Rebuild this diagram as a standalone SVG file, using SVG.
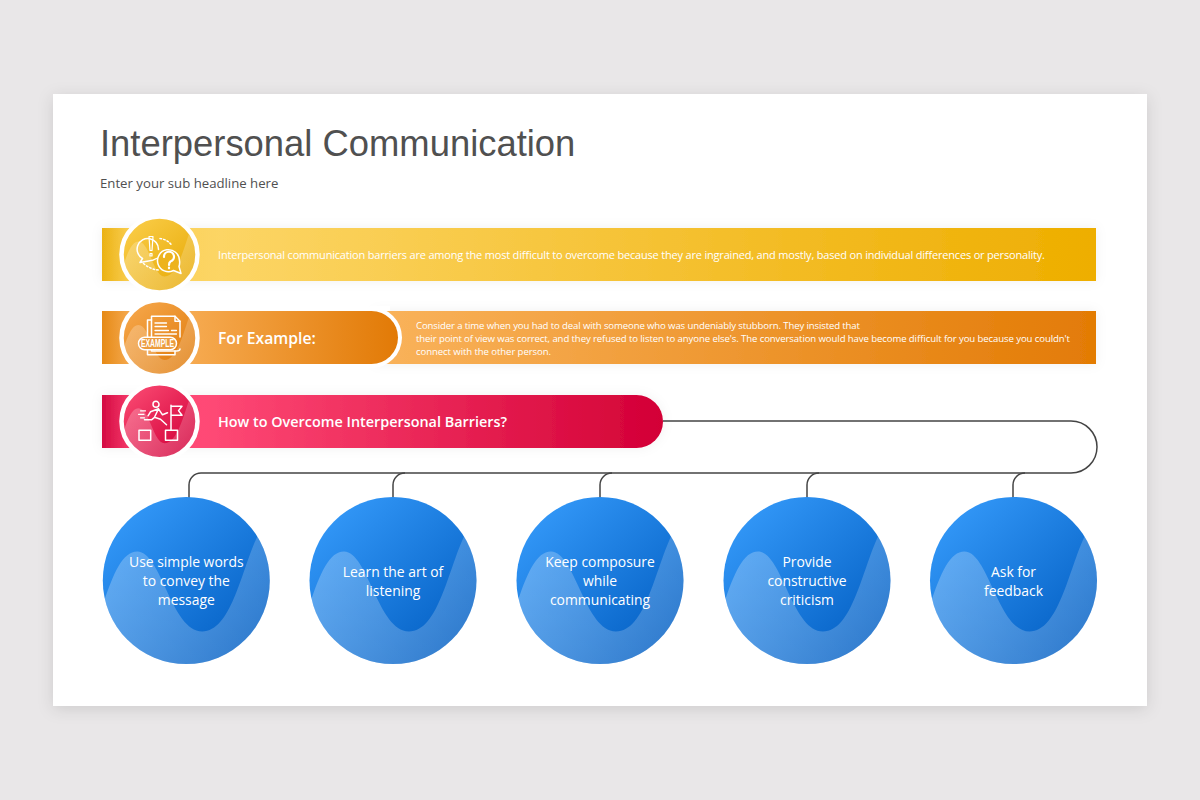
<svg xmlns="http://www.w3.org/2000/svg" width="1200" height="800" viewBox="0 0 1200 800">
<style>
.t{font-family:"Open Sans","Noto Sans",sans-serif;fill:#fff}
.c{font-size:13.9px;text-anchor:middle}
.h{font-weight:600}
.i{fill:none;stroke:#fff;stroke-width:1.5;stroke-linejoin:round;stroke-linecap:round}
.ring{stroke:#fff;stroke-width:4.5}
.wave{fill:url(#wv)}
.conn{fill:none;stroke:#444;stroke-width:1.5}
</style>
<defs>
<filter id="card" x="-5%" y="-5%" width="110%" height="110%"><feDropShadow dx="0" dy="3" stdDeviation="8" flood-color="#000" flood-opacity=".12"/></filter>
<filter id="soft" x="-10%" y="-30%" width="120%" height="160%"><feDropShadow dx="0" dy="0" stdDeviation="6" flood-color="#000" flood-opacity=".06"/></filter>
<linearGradient id="g1" gradientUnits="userSpaceOnUse" x1="102" y1="0" x2="1096" y2="0"><stop offset="0" stop-color="#ebb214"/><stop offset=".03" stop-color="#fbd055"/><stop offset=".12" stop-color="#fcd565"/><stop offset="1" stop-color="#eeae00"/></linearGradient>
<linearGradient id="g2" gradientUnits="userSpaceOnUse" x1="385" y1="0" x2="1096" y2="0"><stop offset="0" stop-color="#f9b25a"/><stop offset="1" stop-color="#e37b05"/></linearGradient>
<linearGradient id="g2p" gradientUnits="userSpaceOnUse" x1="102" y1="0" x2="398" y2="0"><stop offset="0" stop-color="#e68a16"/><stop offset=".1" stop-color="#f6ab52"/><stop offset=".3" stop-color="#f6aa50"/><stop offset="1" stop-color="#e27a06"/></linearGradient>
<linearGradient id="g3" gradientUnits="userSpaceOnUse" x1="102" y1="0" x2="663" y2="0"><stop offset="0" stop-color="#d40a42"/><stop offset=".05" stop-color="#f53a6a"/><stop offset=".18" stop-color="#ff4a76"/><stop offset="1" stop-color="#d30036"/></linearGradient>
<linearGradient id="ci1" x1=".15" y1=".1" x2=".85" y2=".9"><stop offset="0" stop-color="#f9cb45"/><stop offset="1" stop-color="#e8ab08"/></linearGradient>
<linearGradient id="ci2" x1=".15" y1=".1" x2=".85" y2=".9"><stop offset="0" stop-color="#f5a548"/><stop offset="1" stop-color="#e07c0c"/></linearGradient>
<linearGradient id="ci3" x1=".15" y1=".1" x2=".85" y2=".9"><stop offset="0" stop-color="#f8466f"/><stop offset="1" stop-color="#d3003a"/></linearGradient>
<linearGradient id="blue" x1=".1" y1=".1" x2=".85" y2=".9"><stop offset="0" stop-color="#3398f8"/><stop offset="1" stop-color="#0460c4"/></linearGradient>
<linearGradient id="wv" x1="0" y1="0" x2="1" y2="0"><stop offset="0" stop-color="#fff" stop-opacity=".26"/><stop offset="1" stop-color="#fff" stop-opacity=".17"/></linearGradient>
<clipPath id="cb"><circle r="83.500"/></clipPath>
<clipPath id="cs"><circle r="36"/></clipPath>
<g id="bluecircle">
<circle r="83.500" fill="url(#blue)"/>
<path class="wave" clip-path="url(#cb)" d="M-90,45C-76,0-66-29-49-29C-25-29-15,51 16,51C45,51 55-10 71-44L100-44L100,100L-100,100Z"/>
</g>
<path id="smallwave" class="wave" clip-path="url(#cs)" d="M-40,22C-33,2-29-13-21-13C-10-13-6,22 5,22C18,22 24-6 32-28L50-28L50,50L-50,50Z"/>
</defs>
<rect width="1200" height="800" fill="#e9e7e8"/>
<rect id="card-bg" x="53" y="94" width="1094" height="612" fill="#fff" filter="url(#card)"/>
<text x="100" y="156" font-family="'Liberation Sans',Arial,sans-serif" font-size="36.400" fill="#505050">Interpersonal Communication</text>
<text x="100" y="188" font-family="'Open Sans',sans-serif" font-size="13.200" fill="#505050">Enter your sub headline here</text>

<g id="connectors">
<path class="conn" d="M663,421H1071A26,26 0 0 1 1071,473H201A12,12 0 0 0 189,485V498"/>
<path class="conn" d="M405,473A12,12 0 0 0 393,485V498"/>
<path class="conn" d="M612,473A12,12 0 0 0 600,485V498"/>
<path class="conn" d="M819,473A12,12 0 0 0 807,485V498"/>
<path class="conn" d="M1025,473A12,12 0 0 0 1013,485V498"/>
</g>

<g id="bar1">
<rect x="102" y="228" width="994" height="53" fill="url(#g1)" filter="url(#soft)"/>
<text class="t" x="218" y="259" font-size="11" textLength="827">Interpersonal communication barriers are among the most difficult to overcome because they are ingrained, and mostly, based on individual differences or personality.</text>
<g transform="translate(159.500,254.500)">
<circle r="38" fill="url(#ci1)" class="ring"/>
<use href="#smallwave"/>
<g class="i">
<path d="M-1,-5A10.700,10.700 0 1 0 -17,4L-19.500,8L-11,6.500Q-6,6-3,4"/>
<path d="M-10.500,-18H-6.500L-7.500,-4H-9.500ZM-9.500,-1H-7.500V1.500H-9.500Z" stroke-width="1.200"/>
<path d="M.5,-16Q8,-15 12,-9.500M-16,9Q-9,15-1,15.500" stroke-dasharray="1.500 2.200"/>
<path d="M20,6A11,11 0 1 0 14,16L21.500,19L19.500,12Q20.500,9 20,6Z" fill="#edb31c"/>
<path d="M4.500,2.500A5,5 0 1 1 11,7Q9.500,8 9.500,10.500" stroke-width="2.200"/>
<path d="M9.500,13V13.800" stroke-width="2.200"/>
</g>
</g>
</g>

<g id="bar2">
<rect x="375" y="311" width="721" height="53" fill="url(#g2)" filter="url(#soft)"/>
<text class="t" font-size="9.600"><tspan x="416" y="329" textLength="444">Consider a time when you had to deal with someone who was undeniably stubborn. They insisted that</tspan><tspan x="416" y="342" textLength="654">their point of view was correct, and they refused to listen to anyone else's. The conversation would have become difficult for you because you couldn't</tspan><tspan x="416" y="355" textLength="135">connect with the other person.</tspan></text>
<circle cx="371.500" cy="337.500" r="30.500" fill="#fff"/>
<rect x="370" y="306" width="20" height="5" fill="#fff"/>
<path d="M102,311H371.500A26.500,26.500 0 0 1 371.500,364H102Z" fill="url(#g2p)"/>
<text class="t h" x="218" y="344" font-size="15.700">For Example:</text>
<g transform="translate(159.500,338)">
<circle r="38" fill="url(#ci2)" class="ring"/>
<use href="#smallwave"/>
<g class="i">
<path d="M-8,-1V-21.700H15.500L20.500,-16.700V-1M-8,12V13H17Q20.500,13 20.500,11"/>
<path d="M15.500,-21.700V-16.700H20.500"/>
<path d="M-8,-18H-12V-1M-12,12V16.700H15.500V13"/>
<path d="M-4.500,-15H7M-4.500,-11.500H7M-4.500,-7.500H9M12,-7.500H17M-4.500,-4H17" stroke-width="1.300"/>
<rect x="-21" y="-.7" width="38" height="12.400" rx="6.200" fill="#ec9c3e"/>
</g>
<text x="-2" y="9.300" text-anchor="middle" font-family="'Liberation Sans',sans-serif" font-size="10" font-weight="700" fill="#fff" textLength="33" lengthAdjust="spacingAndGlyphs">EXAMPLE</text>
</g>
</g>

<g id="bar3">
<path d="M102,395H636.500A26.500,26.500 0 0 1 636.500,448H102Z" fill="url(#g3)" filter="url(#soft)"/>
<text class="t h" x="218" y="427" font-size="14.400">How to Overcome Interpersonal Barriers?</text>
<g transform="translate(159.500,421.300)">
<circle r="38" fill="url(#ci3)" class="ring"/>
<use href="#smallwave"/>
<g class="i">
<rect x="-20.500" y="9" width="11.700" height="10"/>
<rect x="6" y="9" width="12" height="10"/>
<circle cx="-3.500" cy="-17" r="3"/>
<path d="M-9,-9.500L-1,-12.500L3,-6.500L8,-8.500M-1,-12.500L-5,-4L1,-2L7,3.500M-5,-4L-8,-1.500H-15M-9,-9.500L-11.500,-5.500"/>
<path d="M11.500,9V-16M12,-15H22.500L19,-10.700L22.500,-6H12"/>
<path d="M-19,-10.500H-14M-21,-7H-15.500M-19,-3.500H-15" stroke-width="1.200"/>
</g>
</g>
</g>

<g id="node1" transform="translate(186.300,580.500)"><use href="#bluecircle"/><text class="t c"><tspan x="0" y="-13.500">Use simple words</tspan><tspan x="0" y="5.500">to convey the</tspan><tspan x="0" y="24.500">message</tspan></text></g>
<g id="node2" transform="translate(393,580.500)"><use href="#bluecircle"/><text class="t c"><tspan x="0" y="-3.500">Learn the art of</tspan><tspan x="0" y="15.500">listening</tspan></text></g>
<g id="node3" transform="translate(600,580.500)"><use href="#bluecircle"/><text class="t c"><tspan x="0" y="-13.500">Keep composure</tspan><tspan x="0" y="5.500">while</tspan><tspan x="0" y="24.500">communicating</tspan></text></g>
<g id="node4" transform="translate(807,580.500)"><use href="#bluecircle"/><text class="t c"><tspan x="0" y="-13.500">Provide</tspan><tspan x="0" y="5.500">constructive</tspan><tspan x="0" y="24.500">criticism</tspan></text></g>
<g id="node5" transform="translate(1013.500,580.500)"><use href="#bluecircle"/><text class="t c"><tspan x="0" y="-3.500">Ask for</tspan><tspan x="0" y="15.500">feedback</tspan></text></g>
</svg>
